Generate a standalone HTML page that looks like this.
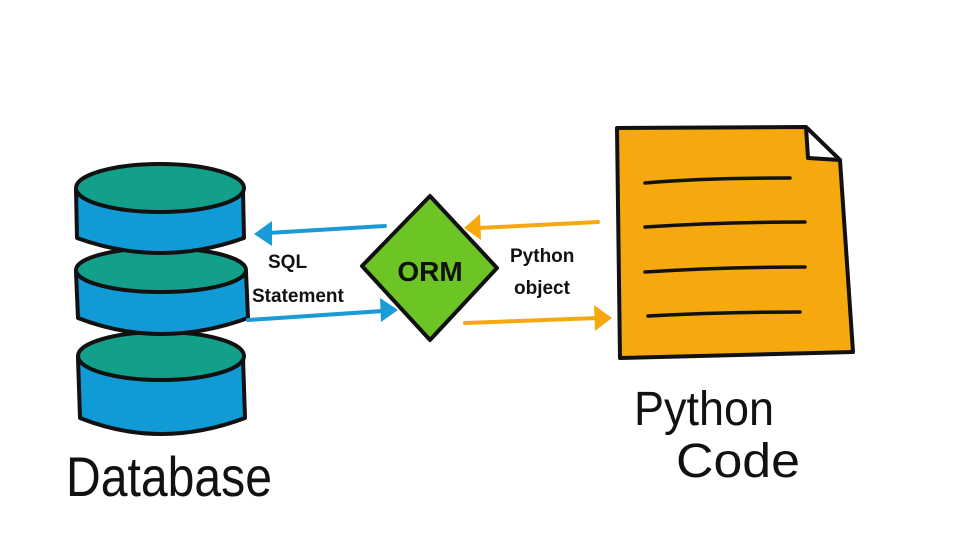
<!DOCTYPE html>
<html><head><meta charset="utf-8"><style>
html,body{margin:0;padding:0;background:#fff;}
svg{display:block}
text{font-family:"Liberation Sans",sans-serif;fill:#111}
</style></head><body>
<svg width="960" height="540" viewBox="0 0 960 540" xmlns="http://www.w3.org/2000/svg">
<rect width="960" height="540" fill="#fff"/>
<g stroke="#111" stroke-width="4" stroke-linejoin="round">
<!-- bottom cylinder -->
<path d="M78,358 L80,418 Q160,450 245,418 L243,358 Z" fill="#119bd6"/>
<ellipse cx="161" cy="356" rx="83" ry="24" fill="#12a08a"/>
<!-- middle cylinder -->
<path d="M76,272 L78,318 Q160,350 248,318 L246,272 Z" fill="#119bd6"/>
<ellipse cx="161" cy="270" rx="85" ry="22" fill="#12a08a"/>
<!-- top cylinder -->
<path d="M76,190 L77,238 Q160,268 244,238 L243,190 Z" fill="#119bd6"/>
<ellipse cx="160" cy="188" rx="84" ry="24" fill="#12a08a"/>
<!-- diamond -->
<path d="M430,196 L497,268 L430,340 L362,266 Z" fill="#6cc524"/>
<!-- document -->
<path d="M617,128 L806,127 L840,160 L853,352 L620,358 Z" fill="#f5a90f"/>
<path d="M806,127 L840,160 L808,158 Z" fill="#fff"/>
</g>
<g stroke="#111" stroke-width="3.5" fill="none" stroke-linecap="round">
<path d="M645,183 Q700,178 790,178"/>
<path d="M645,227 Q720,222 805,222"/>
<path d="M645,272 Q720,267 805,267"/>
<path d="M648,316 Q720,312 800,312"/>
</g>
<g stroke-width="4" fill="none" stroke-linecap="round">
<path d="M385,226 L268,233" stroke="#1a9ad6"/>
<path d="M248,320 L383,311" stroke="#1a9ad6"/>
<path d="M598,222 L478,228" stroke="#f5a90f"/>
<path d="M465,323 L598,318" stroke="#f5a90f"/>
</g>
<path d="M254,234 L272,221 L272,246 Z" fill="#1a9ad6"/>
<path d="M398,310 L380,298 L381,322 Z" fill="#1a9ad6"/>
<path d="M464,228 L480,214 L481,240 Z" fill="#f5a90f"/>
<path d="M612,318 L594,305 L595,331 Z" fill="#f5a90f"/>
<text x="430" y="281" font-size="28" font-weight="bold" text-anchor="middle">ORM</text>
<text x="268" y="268" font-size="19" font-weight="bold">SQL</text>
<text x="252" y="302" font-size="19" font-weight="bold">Statement</text>
<text x="510" y="262" font-size="19" font-weight="bold">Python</text>
<text x="514" y="294" font-size="19" font-weight="bold">object</text>
<text x="66" y="496" font-size="56" textLength="206" lengthAdjust="spacingAndGlyphs">Database</text>
<text x="634" y="425" font-size="48" textLength="140" lengthAdjust="spacingAndGlyphs">Python</text>
<text x="676" y="477" font-size="48" textLength="124" lengthAdjust="spacingAndGlyphs">Code</text>
</svg>
</body></html>
